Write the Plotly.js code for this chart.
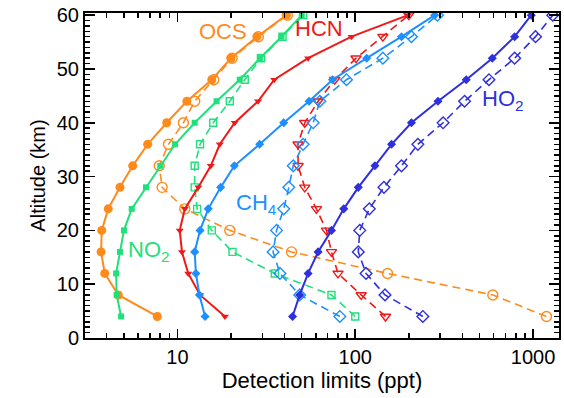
<!DOCTYPE html>
<html>
<head>
<meta charset="utf-8">
<script src="https://cdn.plot.ly/plotly-3.0.1.min.js"></script>
<style>html,body{margin:0;padding:0;background:#fff;}#chart{width:564px;height:398px;}</style>
</head>
<body>
<div id="chart"></div>
<script>
// Altitude levels (km)
const altitudes = [4, 8, 12, 16, 20, 24, 28, 32, 36, 40, 44, 48, 52, 56, 60];

// Detection limits (ppt) per altitude
const ocsSolid  = [7.7, 4.65, 3.9, 3.72, 3.75, 4.08, 4.75, 5.6, 6.8, 8.7, 11.3, 15.6, 20.0, 28.0, 41.0];
const ocsDashed = [1190, 594, 152, 43.8, 19.7, 11.0, 8.2, 7.9, 8.9, 10.8, 12.5, 16.0, 20.3, 28.5, 41.5];
const no2Solid  = [4.82, 4.55, 4.52, 4.75, 5.0, 5.53, 6.65, 8.0, 9.7, 12.5, 16.6, 22.4, 29.1, 38.5, 50.0];
const no2Dashed = [100, 73.5, 35.3, 20.4, 15.6, 12.9, 12.5, 12.5, 13.4, 15.9, 19.7, 23.9, 29.5, 39.0, 51.0];
const hcnSolid  = [18.5, 13.4, 11.5, 10.6, 10.3, 11.0, 13.1, 15.4, 17.3, 21.0, 28.4, 35.0, 54.3, 95.3, 198];
const hcnDashed = [148, 108, 80.0, 73.5, 68.9, 60.5, 52.0, 47.7, 47.7, 52.0, 61.8, 76.7, 101, 143, 200];
const ch4Solid  = [14.3, 13.3, 12.7, 12.5, 13.4, 14.9, 17.5, 20.9, 29.0, 39.6, 55.0, 74.5, 116, 182, 280];
const ch4Dashed = [81.9, 48.7, 37.7, 34.5, 36.1, 39.6, 42.3, 44.8, 50.9, 58.0, 63.2, 89.3, 143, 207, 290];
const ho2Solid  = [44.4, 48.7, 54.3, 61.8, 73.5, 86.2, 104, 129, 160, 207, 292, 421, 590, 788, 977];
const ho2Dashed = [240, 147, 115, 104, 106, 120, 145, 182, 225, 312, 412, 565, 788, 1033, 1291];

const xTickVals = [10, 100, 1000];
const xTickText = ['10', '100', '1000'];
const xMinorVals = [4, 5, 6, 7, 8, 9, 20, 30, 40, 50, 60, 70, 80, 90, 200, 300, 400, 500, 600, 700, 800, 900];
const yTickVals = [0, 10, 20, 30, 40, 50, 60];

const C = {ocs:'#FF8A1C', no2:'#1FE07A', hcn:'#F01818', ch4:'#1E8FFF', ho2:'#2F2FDD'};
const dashPat = '8px,5px';

function solid(x, color, symbol, size){
  return {x:x, y:altitudes, type:'scatter', mode:'lines+markers',
    line:{color:color, width:2}, marker:{symbol:symbol, size:size, color:color},
    cliponaxis:true, showlegend:false, hoverinfo:'skip'};
}
function dashed(x, color, symbol, size){
  return {x:x, y:altitudes, type:'scatter', mode:'lines+markers',
    line:{color:color, width:1.6, dash:dashPat},
    marker:{symbol:symbol, size:size, color:color, line:{color:color, width:1.4}},
    cliponaxis:true, showlegend:false, hoverinfo:'skip'};
}

const data = [
  dashed(ocsDashed, C.ocs, 'circle-open', 10),
  dashed(no2Dashed, C.no2, 'square-open', 7),
  dashed(hcnDashed, C.hcn, 'triangle-down-open', 9),
  dashed(ch4Dashed, C.ch4, 'diamond-open', 9),
  dashed(ho2Dashed, C.ho2, 'diamond-open', 9),
  solid(ocsSolid, C.ocs, 'circle', 9),
  solid(no2Solid, C.no2, 'square', 6),
  solid(hcnSolid, C.hcn, 'triangle-down', 7),
  solid(ch4Solid, C.ch4, 'diamond', 7),
  solid(ho2Solid, C.ho2, 'diamond', 7)
];

const FONT = 'Liberation Sans, Arial, sans-serif';
const W = 564, H = 398, ML = 85, MR = 5, MT = 13, MB = 60;
const PW = W - ML - MR, PH = H - MT - MB;
function px(x){ return (x - ML) / PW; }
function py(y){ return (H - MB - y) / PH; }

function label(text, x, y, color){
  return {text:text, xref:'paper', yref:'paper', x:px(x), y:py(y), showarrow:false,
    xanchor:'center', yanchor:'middle', font:{family:FONT, size:22, color:color}};
}

const TC = '#000';
const layout = {
  width:W, height:H,
  margin:{l:ML, r:MR, t:MT, b:MB, pad:0},
  paper_bgcolor:'#fff', plot_bgcolor:'#fff',
  font:{family:FONT, size:20, color:'#000'},
  xaxis:{
    type:'log', range:[0.48, 3.146],
    tickmode:'array', tickvals:xTickVals, ticktext:xTickText,
    ticks:'inside', ticklen:9, tickwidth:1.6, tickcolor:TC,
    minor:{tickmode:'array', tickvals:xMinorVals, ticks:'inside', ticklen:5, tickwidth:1.5, tickcolor:TC, showgrid:false},
    showline:true, linecolor:'#000', linewidth:2, mirror:'allticks',
    showgrid:false, zeroline:false,
    tickfont:{family:FONT, size:20, color:'#000'},
    title:{text:'Detection limits (ppt)', font:{family:FONT, size:22, color:'#000'}, standoff:3}
  },
  yaxis:{
    range:[0, 60.4], tickmode:'array', tickvals:yTickVals,
    ticks:'inside', ticklen:10, tickwidth:1.6, tickcolor:TC,
    minor:{tickmode:'linear', tick0:0, dtick:1, ticks:'inside', ticklen:5, tickwidth:1.5, tickcolor:TC, showgrid:false},
    showline:true, linecolor:'#000', linewidth:2, mirror:'allticks',
    showgrid:false, zeroline:false,
    tickfont:{family:FONT, size:20, color:'#000'},
    title:{text:'Altitude (km)', font:{family:FONT, size:20, color:'#000'}, standoff:6}
  },
  annotations:[
    label('OCS', 223, 32, C.ocs),
    label('HCN', 319, 29, C.hcn),
    label('NO<sub>2</sub>', 149, 251, C.no2),
    label('CH<sub>4</sub>', 256, 204, C.ch4),
    label('HO<sub>2</sub>', 503, 100, C.ho2)
  ],
  showlegend:false
};

Plotly.newPlot('chart', data, layout, {staticPlot:true, displayModeBar:false});
</script>
</body>
</html>
